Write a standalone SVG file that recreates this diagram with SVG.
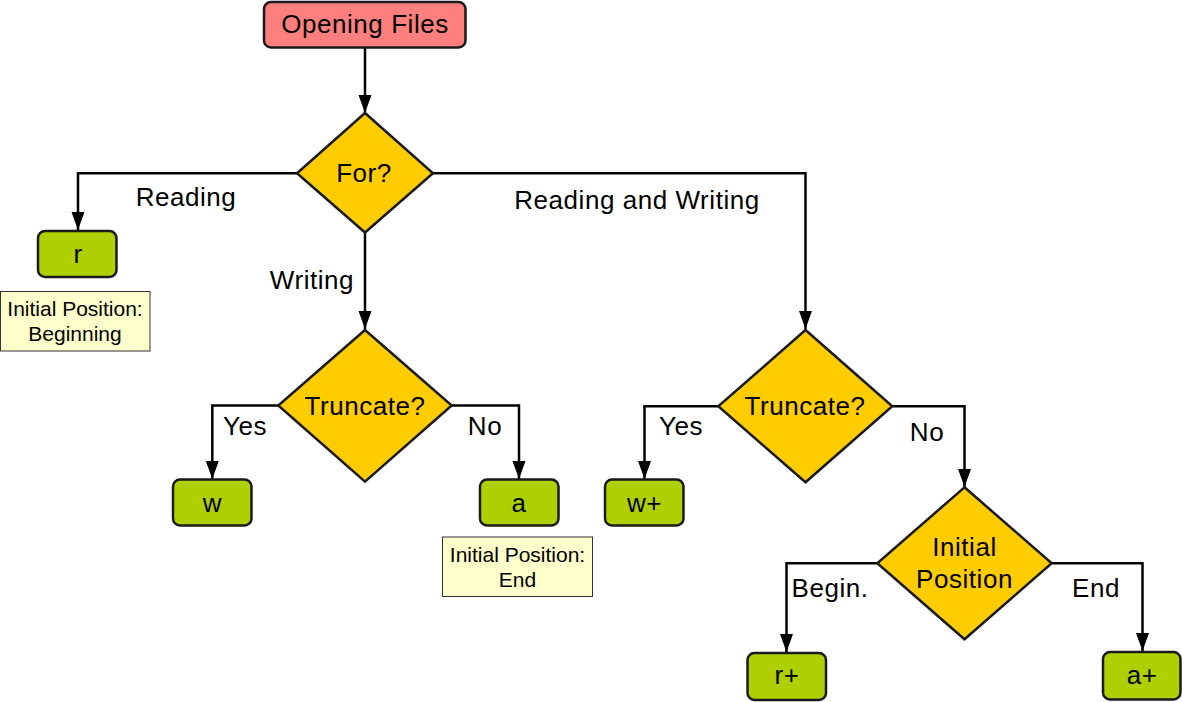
<svg xmlns="http://www.w3.org/2000/svg" width="1182" height="702" viewBox="0 0 1182 702">
<style>
text{font-family:"Liberation Sans",Arial,sans-serif;fill:#000;text-anchor:middle}
.lbl{font-size:26px;letter-spacing:0.55px}
.note{font-size:21px}
.start{fill:#ff7f7f;stroke:#1a1a1a;stroke-width:2.5}
.dec{fill:#ffcc00;stroke:#1a1a1a;stroke-width:2.5;stroke-linejoin:miter}
.end{fill:#afd000;stroke:#1a1a1a;stroke-width:2.5}
.nt{fill:#ffffcc;stroke:#333;stroke-width:1}
.conn{fill:none;stroke:#000;stroke-width:2.5;marker-end:url(#arr)}
</style>
<defs>
<marker id="arr" markerUnits="userSpaceOnUse" markerWidth="18" markerHeight="14" refX="18" refY="7" orient="auto">
<path d="M0,0.5 L18,7 L0,13.5 z" fill="#000"/>
</marker>
</defs>
<rect width="1182" height="702" fill="#fff"/>
<g id="connectors">
<path class="conn" d="M365,48 V113"/>
<path class="conn" d="M297,173.3 H78 V230"/>
<path class="conn" d="M365,233 V329"/>
<path class="conn" d="M433,173.3 H805.5 V329"/>
<path class="conn" d="M278.3,405.5 H212.3 V479"/>
<path class="conn" d="M451.7,405.5 H519 V479"/>
<path class="conn" d="M718.3,406.3 H644.5 V479"/>
<path class="conn" d="M892.3,406.3 H964.5 V487"/>
<path class="conn" d="M877.3,563.3 H786.5 V652"/>
<path class="conn" d="M1051.7,563.3 H1142.5 V651"/>
<text class="lbl" x="186" y="206">Reading</text>
<text class="lbl" x="312" y="289">Writing</text>
<text class="lbl" x="637" y="209">Reading and Writing</text>
<text class="lbl" x="245" y="435">Yes</text>
<text class="lbl" x="485" y="435">No</text>
<text class="lbl" x="681" y="435">Yes</text>
<text class="lbl" x="927" y="441">No</text>
<text class="lbl" x="830" y="597">Begin.</text>
<text class="lbl" x="1096" y="597">End</text>
</g>
<g id="opening">
<rect class="start" x="264" y="2" width="201.5" height="45.5" rx="7"/>
<text class="lbl" x="365" y="32.5">Opening Files</text>
</g>
<g id="for">
<path class="dec" d="M365,113 L433,173.3 L365,232.5 L297,173.3 Z"/>
<text class="lbl" x="364" y="182">For?</text>
</g>
<g id="r">
<rect class="end" x="38" y="231" width="78.5" height="46" rx="7"/>
<text class="lbl" x="78" y="263">r</text>
</g>
<g id="note-beginning">
<rect class="nt" x="0.5" y="291.5" width="149.5" height="59.5"/>
<text class="note" x="75" y="316">Initial Position:</text>
<text class="note" x="75" y="340.5">Beginning</text>
</g>
<g id="truncate1">
<path class="dec" d="M365,330 L451.7,405.5 L365,481.7 L278.3,405.5 Z"/>
<text class="lbl" x="365" y="415">Truncate?</text>
</g>
<g id="w">
<rect class="end" x="173" y="479.5" width="78.5" height="46" rx="7"/>
<text class="lbl" x="212.5" y="511.5">w</text>
</g>
<g id="a">
<rect class="end" x="480" y="479.5" width="78.5" height="46" rx="7"/>
<text class="lbl" x="519" y="511.5">a</text>
</g>
<g id="note-end">
<rect class="nt" x="442.5" y="537" width="150" height="59.5"/>
<text class="note" x="517.5" y="561.5">Initial Position:</text>
<text class="note" x="517.5" y="586.5">End</text>
</g>
<g id="truncate2">
<path class="dec" d="M805.5,330 L892.3,406.3 L805.5,482.3 L718.3,406.3 Z"/>
<text class="lbl" x="805" y="415">Truncate?</text>
</g>
<g id="wplus">
<rect class="end" x="605" y="479.5" width="78.5" height="46" rx="7"/>
<text class="lbl" x="644.5" y="511.5">w+</text>
</g>
<g id="initialpos">
<path class="dec" d="M964.5,487.3 L1051.7,563.3 L964.5,639.3 L877.3,563.3 Z"/>
<text class="lbl" x="964.5" y="556">Initial</text>
<text class="lbl" x="964.5" y="587.5">Position</text>
</g>
<g id="rplus">
<rect class="end" x="747.5" y="653" width="78.5" height="47" rx="7"/>
<text class="lbl" x="787" y="684">r+</text>
</g>
<g id="aplus">
<rect class="end" x="1103" y="652" width="77.5" height="47.5" rx="7"/>
<text class="lbl" x="1142" y="684">a+</text>
</g>
</svg>
